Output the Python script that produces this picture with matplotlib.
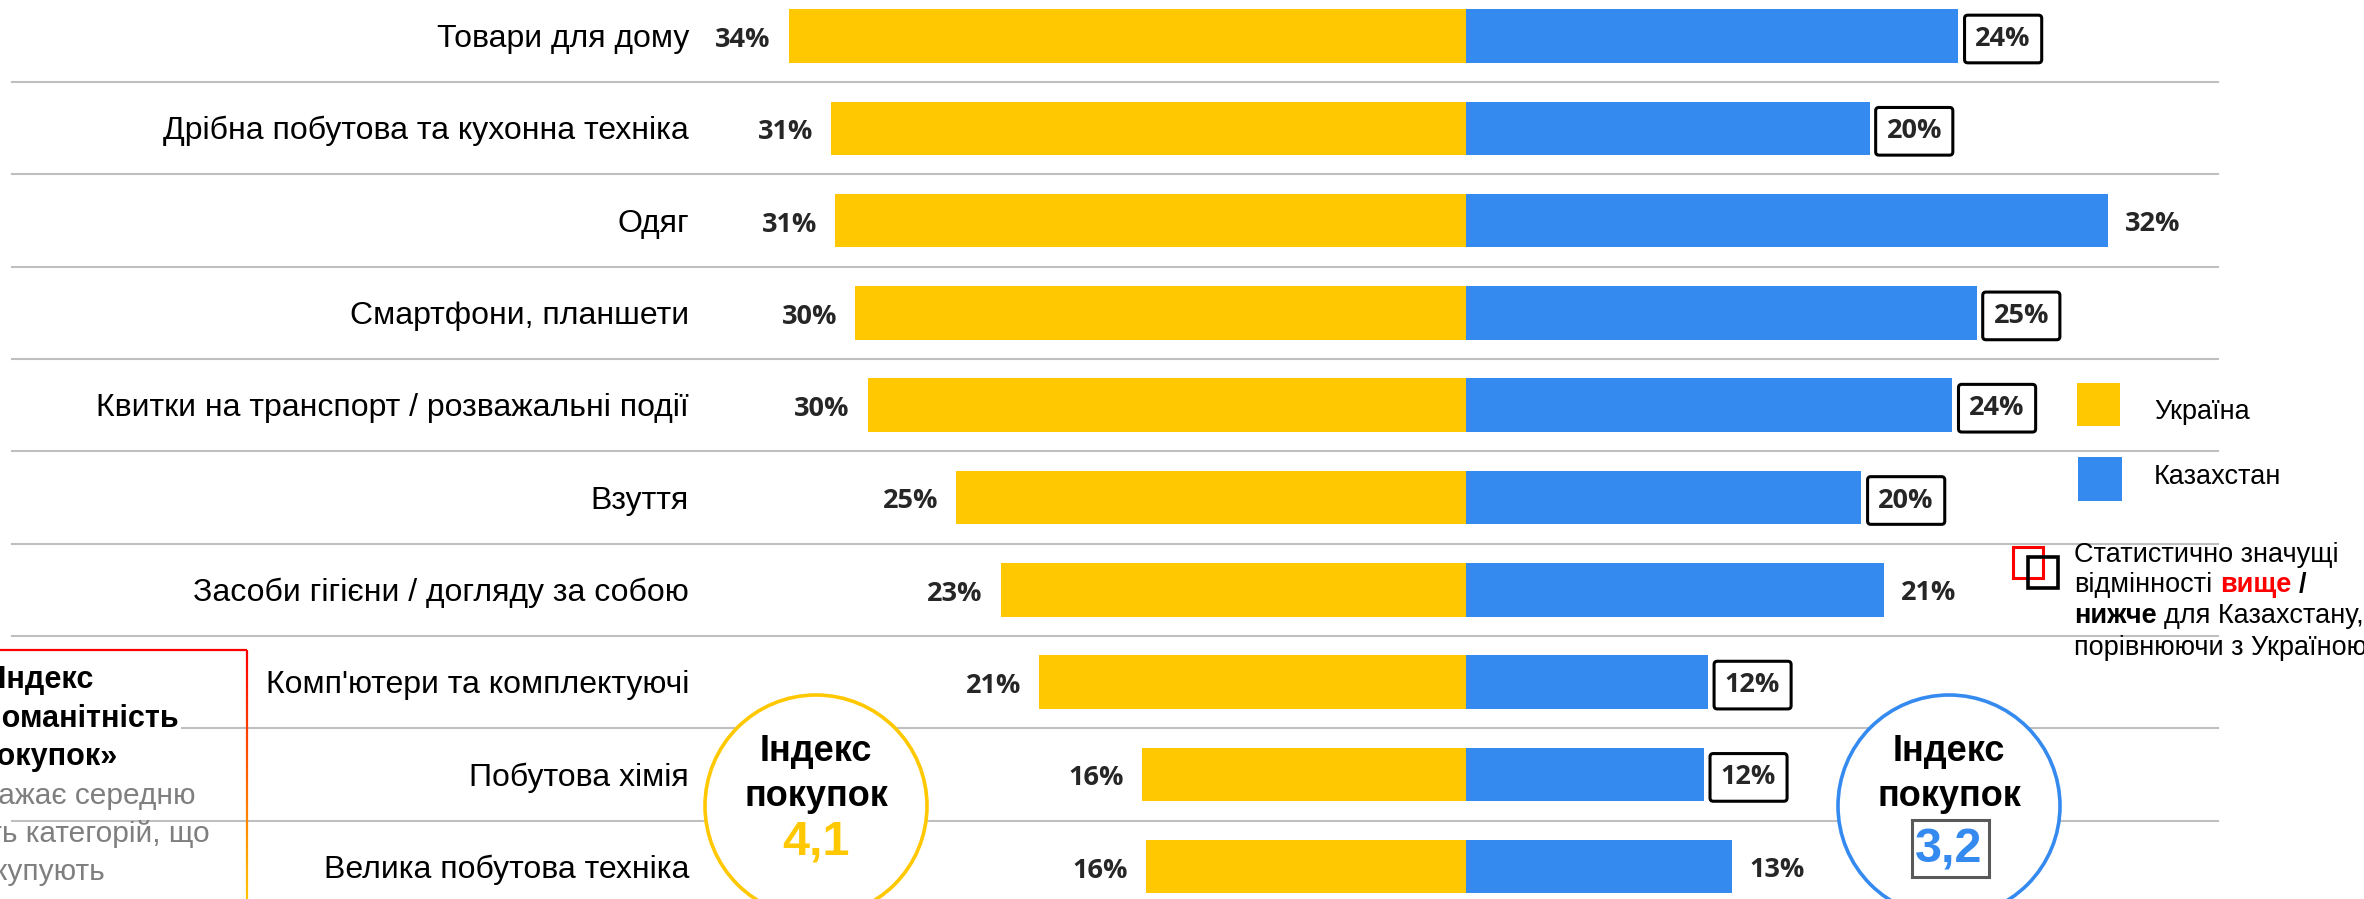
import matplotlib
matplotlib.use("Agg")
import matplotlib.pyplot as plt
import numpy as np
from matplotlib.patches import Rectangle, Ellipse
from matplotlib.transforms import Affine2D, blended_transform_factory
from matplotlib.collections import LineCollection
from matplotlib.colors import to_rgb

# ---------------- data ----------------
categories = [
    "Товари для дому",
    "Дрібна побутова та кухонна техніка",
    "Одяг",
    "Смартфони, планшети",
    "Квитки на транспорт / розважальні події",
    "Взуття",
    "Засоби гігієни / догляду за собою",
    "Комп'ютери та комплектуючі",
    "Побутова хімія",
    "Велика побутова техніка",
]
# bar lengths (%), and the printed labels
ukraine = [33.5, 31.4, 31.2, 30.2, 29.6, 25.2, 23.0, 21.1, 16.0, 15.8]
kazakhstan = [24.4, 20.0, 31.8, 25.3, 24.1, 19.6, 20.7, 12.0, 11.8, 13.2]
ukraine_labels = ["34%", "31%", "31%", "30%", "30%", "25%", "23%", "21%", "16%", "16%"]
kazakhstan_labels = ["24%", "20%", "32%", "25%", "24%", "20%", "21%", "12%", "12%", "13%"]
kz_significantly_lower = [True, True, False, True, True, True, False, True, True, False]
series_names = ["Україна", "Казахстан"]
index_ukraine = "4,1"
index_kazakhstan = "3,2"
index_title = ["Індекс", "покупок"]
box_lines_bold = ["«Індекс", "різноманітність", "покупок»"]
box_lines_grey = ["відображає середню", "кількість категорій, що", "купують"]

# ---------------- style ----------------
YEL = "#FFC800"
BLUE = "#358AF0"
GRID = "#BFBFBF"
VALC = "#262626"
SANS = ["Liberation Sans", "DejaVu Sans"]
VALF = ["Open Sans", "Lato", "DejaVu Sans"]

W, H, DPI = 2364, 899, 100
fig = plt.figure(figsize=(W / DPI, H / DPI), dpi=DPI)
fig.patch.set_facecolor("white")
ax = fig.add_axes([0, 0, 1, 1])
ax.set_axis_off()

CX, SCALE, ROW0, ROWH = 1465.5, 20.2, 36.0, 92.3
ax.set_xlim(-CX / SCALE, (W - CX) / SCALE)
ax.set_ylim((H - ROW0) / ROWH, -ROW0 / ROWH)

# pixel (top-left origin) transform for decorations
P = Affine2D().scale(1, -1).translate(0, H)
PX_DATA_Y = blended_transform_factory(Affine2D(), ax.transData)

y = np.arange(len(categories))

# separators
for k in range(1, len(categories)):
    ax.axhline(k - 0.5, xmin=12 / W, xmax=2218 / W, color=GRID, lw=1.5, zorder=1)

# bars
ax.barh(y, [-v for v in ukraine], height=0.58, color=YEL, zorder=2)
ax.barh(y, kazakhstan, height=0.58, color=BLUE, zorder=2)

# category labels
for i, c in enumerate(categories):
    ax.annotate(c, xy=(689, i), xycoords=PX_DATA_Y, xytext=(0, -3),
                textcoords="offset pixels", ha="right", va="center",
                fontsize=23, family=SANS, color="black", zorder=4)

# value labels
for i, (v, lab) in enumerate(zip(ukraine, ukraine_labels)):
    ax.annotate(lab, xy=(-v, i), xytext=(-18, -4), textcoords="offset pixels",
                ha="right", va="center", fontsize=19.5, fontweight="bold",
                family=VALF, color=VALC, zorder=4)
for i, (v, lab, low) in enumerate(zip(kazakhstan, kazakhstan_labels, kz_significantly_lower)):
    bb = None
    if low:
        bb = dict(boxstyle="round,pad=0.4,rounding_size=0.12", fc="white", ec="black", lw=2.2)
    ax.annotate(lab, xy=(v, i), xytext=(17, -3), textcoords="offset pixels",
                ha="left", va="center", fontsize=19.5, fontweight="bold",
                family=VALF, color=VALC, zorder=4, bbox=bb)

# index circles
for cx, col, val, vb in [(816, YEL, index_ukraine, 854), (1949, BLUE, index_kazakhstan, 862)]:
    ax.add_patch(Ellipse((cx, 806), 222, 222, transform=P, fc="white", ec=col,
                         lw=2.6, zorder=3))
    ax.text(cx, 761, index_title[0], transform=P, ha="center", va="baseline",
            fontsize=26, fontweight="bold", family=SANS, color="black", zorder=5)
    ax.text(cx, 806, index_title[1], transform=P, ha="center", va="baseline",
            fontsize=26, fontweight="bold", family=SANS, color="black", zorder=5)
    ax.text(cx, vb, val, transform=P, ha="center", va="baseline",
            fontsize=35, fontweight="bold", family=SANS, color=col, zorder=5)
ax.add_patch(Rectangle((1912, 820), 77, 57, transform=P, fc="none", ec="#595959",
                       lw=2.2, zorder=5))

# legend
ax.add_patch(Rectangle((2077, 383), 43, 43, transform=P, fc=YEL, ec="none", zorder=5))
ax.add_patch(Rectangle((2078, 457), 44, 44, transform=P, fc=BLUE, ec="none", zorder=5))
ax.text(2154, 412, series_names[0], transform=P, ha="left", va="center",
        fontsize=19.5, family=SANS, color="black", zorder=5)
ax.text(2154, 477, series_names[1], transform=P, ha="left", va="center",
        fontsize=19.5, family=SANS, color="black", zorder=5)
ax.add_patch(Rectangle((2013, 547), 30, 31, transform=P, fc="none", ec="#FF0000",
                       lw=2.2, zorder=5))
ax.add_patch(Rectangle((2028, 557), 30, 31, transform=P, fc="none", ec="black",
                       lw=2.6, zorder=6))

renderer = fig.canvas.get_renderer()
GAP = 7.5


def chain(x, yb, parts):
    for s, kw in parts:
        t = ax.text(x, yb, s, transform=P, ha="left", va="baseline", fontsize=19.5,
                    family=SANS, zorder=6, **kw)
        x = t.get_window_extent(renderer=renderer).x1 + GAP


chain(2074, 562, [("Статистично значущі", dict(color="black"))])
chain(2074, 592, [("відмінності", dict(color="black")),
                  ("вище", dict(color="#FF0000", fontweight="bold")),
                  ("/", dict(color="black", fontweight="bold"))])
chain(2074, 623, [("нижче", dict(color="black", fontweight="bold")),
                  ("для Казахстану,", dict(color="black"))])
chain(2074, 655, [("порівнюючи з Україною", dict(color="black"))])

# left info box (cropped at the picture edge, as in the original)
ax.plot([0, 247], [650, 650], transform=P, color="#FF0000", lw=1.6, zorder=5,
        solid_capstyle="butt")
ys = np.linspace(650, 899, 60)
c0, c1 = np.array(to_rgb("#FF0000")), np.array(to_rgb("#FFC400"))
segs = [[(247, ys[j]), (247, ys[j + 1])] for j in range(len(ys) - 1)]
cols = [tuple(c0 + (c1 - c0) * (j / (len(ys) - 2))) for j in range(len(ys) - 1)]
ax.add_collection(LineCollection(segs, colors=cols, linewidths=1.6, transform=P, zorder=5))

bold_right = [94, 179, 118]
grey_right = [196, 210, 105]
bold_y = [680, 719, 757]
grey_y = [796, 834, 872]
for s, xr, yy in zip(box_lines_bold, bold_right, bold_y):
    ax.text(xr, yy, s, transform=P, ha="right", va="center", fontsize=22,
            fontweight="bold", family=SANS, color="black", zorder=6,
            bbox=dict(boxstyle="square,pad=0.05", fc="white", ec="none"))
for s, xr, yy in zip(box_lines_grey, grey_right, grey_y):
    ax.text(xr, yy, s, transform=P, ha="right", va="center", fontsize=21.5,
            family=SANS, color="#7F7F7F", zorder=6)

fig.savefig("out.png", dpi=DPI, facecolor="white")
